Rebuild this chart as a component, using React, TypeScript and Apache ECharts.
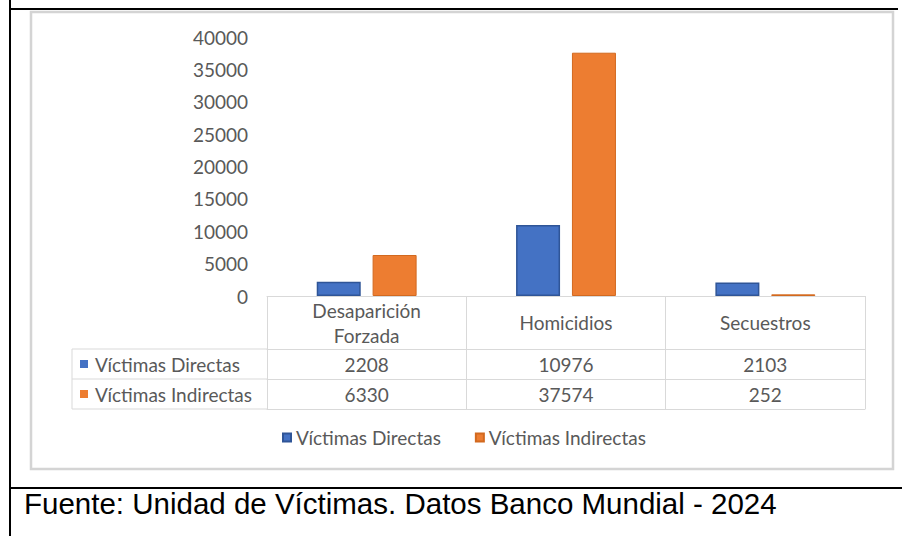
import React, { useEffect, useRef } from "react";
import * as echarts from "echarts";

const categories = ["Desaparición Forzada", "Homicidios", "Secuestros"];
const seriesNames = ["Víctimas Directas", "Víctimas Indirectas"];
const directas = [2208, 10976, 2103];
const indirectas = [6330, 37574, 252];
const yTicks = [0, 5000, 10000, 15000, 20000, 25000, 30000, 35000, 40000];
const sourceText = "Fuente: Unidad de Víctimas. Datos Banco Mundial - 2024";

const W = 902;
const H = 536;
const GRID_LEFT = 267;
const GRID_RIGHT = 37;
const GRID_TOP = 37;
const AXIS_Y = 296;
const ROW1 = 53;
const ROW2 = 83;
const ROW3 = 113;
const KEY_LEFT = 72;
const BLUE = "#4472C4";
const ORANGE = "#ED7D31";
const TXT = "#595959";
const LINE = "#D9D9D9";
const FONT = "Lato";
const FS = 19;

export default function App() {
  const ref = useRef<HTMLDivElement>(null);
  useEffect(() => {
    document.body.style.margin = "0";
    const chart = echarts.init(ref.current!, null, { renderer: "svg", width: W, height: H });
    const colors = [BLUE, ORANGE];
    const vals = [directas, indirectas];
    const rowOffsets = [ROW1, ROW2];
    const keyGraphics: any[] = [];
    seriesNames.forEach((n, i) => {
      const cy = AXIS_Y + rowOffsets[i] + 15;
      keyGraphics.push({
        type: "rect",
        shape: { x: 80, y: cy - 4, width: 8, height: 8 },
        style: { fill: colors[i] },
      });
      keyGraphics.push({
        type: "text",
        x: 95,
        y: cy,
        style: { text: n, fill: TXT, font: `${FS}px ${FONT}`, verticalAlign: "middle", align: "left" },
      });
    });
    const tableLines: any[] = [];
    [ROW1, ROW2, ROW3].forEach((o) => {
      tableLines.push({
        type: "line",
        shape: { x1: KEY_LEFT, y1: AXIS_Y + o, x2: GRID_LEFT, y2: AXIS_Y + o },
        style: { stroke: LINE, lineWidth: 1 },
      });
    });
    tableLines.push({
      type: "line",
      shape: { x1: KEY_LEFT, y1: AXIS_Y + ROW1, x2: KEY_LEFT, y2: AXIS_Y + ROW3 },
      style: { stroke: LINE, lineWidth: 1 },
    });

    const rowAxis = (offset: number, data: number[] | null) => ({
      type: "category",
      gridIndex: 0,
      position: "bottom",
      offset,
      data: categories,
      axisLine: { show: true, lineStyle: { color: LINE, width: 1 } },
      axisTick: { show: false },
      axisLabel: data
        ? {
            show: true,
            interval: 0,
            margin: 15,
            verticalAlign: "middle",
            color: TXT,
            fontFamily: FONT,
            fontSize: FS,
            formatter: (_v: string, idx: number) => String(data[idx]),
          }
        : { show: false },
    });

    chart.setOption({
      animation: false,
      backgroundColor: "#fff",
      textStyle: { fontFamily: FONT },
      grid: { left: GRID_LEFT, right: GRID_RIGHT, top: GRID_TOP, bottom: H - AXIS_Y, containLabel: false },
      legend: {
        data: seriesNames,
        left: 277,
        top: 423,
        icon: "rect",
        itemWidth: 8,
        itemHeight: 8,
        itemGap: 34,
        textStyle: { color: TXT, fontFamily: FONT, fontSize: FS },
      },
      xAxis: [
        {
          type: "category",
          data: categories,
          axisLine: { show: true, lineStyle: { color: LINE, width: 1 } },
          axisTick: { show: true, length: ROW3, interval: 0, lineStyle: { color: LINE, width: 1 } },
          axisLabel: {
            interval: 0,
            margin: 26.5,
            verticalAlign: "middle",
            color: TXT,
            fontFamily: FONT,
            fontSize: FS,
            lineHeight: 25,
            formatter: (v: string) => (v.length > 12 ? v.replace(" ", "\n") : v),
          },
        },
        rowAxis(ROW1, directas),
        rowAxis(ROW2, indirectas),
        rowAxis(ROW3, null),
      ],
      yAxis: {
        type: "value",
        min: yTicks[0],
        max: yTicks[yTicks.length - 1],
        interval: yTicks[1] - yTicks[0],
        axisLine: { show: false },
        axisTick: { show: false },
        splitLine: { show: false },
        axisLabel: {
          color: TXT,
          fontFamily: FONT,
          fontSize: FS,
          margin: 19,
          formatter: (v: number) => String(v),
        },
      },
      series: [
        {
          name: seriesNames[0],
          type: "bar",
          data: vals[0],
          barWidth: 44,
          barGap: "27%",
          itemStyle: { color: BLUE, borderColor: "#2F5597", borderWidth: 1.5 },
        },
        {
          name: seriesNames[1],
          type: "bar",
          data: vals[1],
          barWidth: 44,
          barGap: "27%",
          itemStyle: { color: ORANGE, borderColor: "#D2691F", borderWidth: 1 },
        },
      ],
      graphic: [
        {
          type: "rect",
          shape: { x: 31, y: 12, width: 862, height: 457 },
          style: { fill: "none", stroke: "#D4D4D4", lineWidth: 2.5 },
          z: 0,
        },
        { type: "line", shape: { x1: 10, y1: 0, x2: 10, y2: H }, style: { stroke: "#000", lineWidth: 2 } },
        { type: "line", shape: { x1: 10, y1: 9, x2: 898, y2: 9 }, style: { stroke: "#000", lineWidth: 2 } },
        { type: "line", shape: { x1: 10, y1: 488, x2: W, y2: 488 }, style: { stroke: "#000", lineWidth: 2 } },
        ...tableLines,
        ...keyGraphics,
        {
          type: "text",
          x: 24,
          y: 503,
          style: {
            text: sourceText,
            fill: "#000",
            font: "29.5px 'Liberation Sans', Arial, sans-serif",
            verticalAlign: "middle",
            align: "left",
          },
        },
      ],
    });
    return () => chart.dispose();
  }, []);
  return <div ref={ref} style={{ width: W, height: H, position: "absolute", left: 0, top: 0 }} />;
}
